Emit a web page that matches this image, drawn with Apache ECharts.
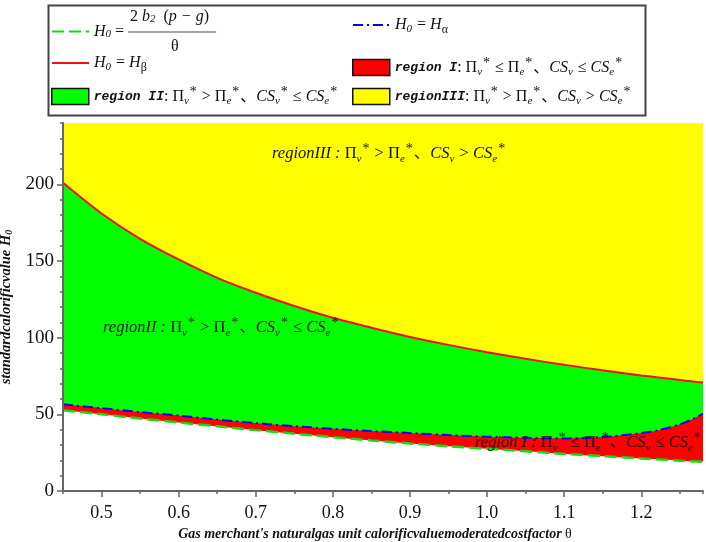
<!DOCTYPE html>
<html>
<head>
<meta charset="utf-8">
<script src="https://cdn.jsdelivr.net/npm/echarts@6/dist/echarts.min.js"></script>
<style>html,body{margin:0;padding:0;background:#fff}#c{width:706px;height:542px}</style>
</head>
<body>
<div id="c"></div>
<script>
// ---- data ----
const theta   = [0.45,0.50,0.55,0.60,0.65,0.70,0.75,0.80,0.85,0.90,0.95,1.00,1.05,1.10,1.15,1.20,1.225,1.25,1.265,1.28];
const hFormula= [52.6,50.0,47.3,44.7,42.2,39.7,37.4,35.1,33.0,31.0,29.2,27.5,25.9,24.2,22.7,21.2,20.5,19.8,19.4,19.0];
const hAlpha  = [56.5,54.0,51.5,49.2,46.6,44.3,42.3,40.6,39.1,37.8,36.5,35.4,34.7,34.3,35.2,37.8,40.0,43.5,46.5,50.5];
const hBeta   = [201,181,164.5,151,139,129.3,120.7,113,106.5,100.5,95.3,90.5,86.2,82.3,78.7,75.4,73.9,72.4,71.5,70.7];
const xTickLabels = [0.5,0.6,0.7,0.8,0.9,1.0,1.1,1.2];
const yTickLabels = [0,50,100,150,200];
const xRange = [0.45,1.28];
const yRange = [0,240];

const pairs = (xs, ys) => xs.map((x,i)=>[x, ys[i]]);

const SERIF = "'Liberation Serif','Noto Sans CJK SC',serif";
const MONO = "'Liberation Mono',monospace";

const R = {
  i:   {fontFamily:SERIF, fontStyle:'italic', fontSize:16, color:'#111', lineHeight:20},
  n:   {fontFamily:SERIF, fontSize:16, color:'#111', lineHeight:20},
  sub: {fontFamily:SERIF, fontStyle:'italic', fontSize:11, color:'#111', padding:[9,1,0,0]},
  subg:{fontFamily:SERIF, fontSize:12, color:'#111', padding:[9,0,0,0]},
  sup: {fontFamily:SERIF, fontSize:14, color:'#111', padding:[0,1,9,0]},
  rg:  {fontFamily:MONO, fontStyle:'italic', fontWeight:'bold', fontSize:13, color:'#111', lineHeight:20},
  fn:  {fontFamily:SERIF, fontSize:16, color:'#111', lineHeight:14},
  fni: {fontFamily:SERIF, fontStyle:'italic', fontSize:16, color:'#111', lineHeight:14},
  fns: {fontFamily:SERIF, fontStyle:'italic', fontSize:11, color:'#111', padding:[4,0,0,0]},
  pad1:{width:36, lineHeight:14},
  pad3:{width:77, lineHeight:14},
  hr:  {width:88, height:0, borderColor:'#888', borderWidth:1},
  fh:  {fontFamily:SERIF, fontStyle:'italic', fontSize:16, color:'#111', lineHeight:14},
  fhs: {fontFamily:SERIF, fontStyle:'italic', fontSize:11, color:'#111', padding:[4,0,0,0]}
};

const legendText = {
  'hf': '{pad1|}{fn|2 }{fni|b}{fns|2}{fn|  (}{fni|p − g}{fn|)}\n{fh|H}{fhs|0}{fn| = }{hr|}\n{pad3|}{fn|θ}',
  'ha': '{i|H}{sub|0}{n| = }{i|H}{subg|α}',
  'hb': '{i|H}{sub|0}{n| = }{i|H}{subg|β}',
  'r1': '{rg|region I}{n|: Π}{sub|v}{sup|*}{n| ≤ Π}{sub|e}{sup|*}{n|、}{i|CS}{sub|v}{n| ≤ }{i|CS}{sub|e}{sup|*}',
  'r2': '{rg|region II}{n|: Π}{sub|v}{sup|*}{n| > Π}{sub|e}{sup|*}{n|、}{i|CS}{sub|v}{sup|*}{n| ≤ }{i|CS}{sub|e}{sup|*}',
  'r3': '{rg|regionIII}{n|: Π}{sub|v}{sup|*}{n| > Π}{sub|e}{sup|*}{n|、}{i|CS}{sub|v}{n| > }{i|CS}{sub|e}{sup|*}'
};

function mkLegend(name, left, top, isLine){
  const item = {name:name};
  if (isLine) { item.itemStyle = {opacity:0}; }
  else { item.icon = 'rect'; item.itemStyle = {borderColor:'#111', borderWidth:1.5}; }
  return {
    left:left, top:top, padding:0, itemGap:0, selectedMode:false,
    itemWidth:37, itemHeight:16, data:[item],
    formatter: n => legendText[n],
    textStyle:{rich:R}
  };
}

const P = {
  pi:{fontFamily:SERIF, fontStyle:'italic', fontSize:16.5, fill:'#111', lineHeight:22},
  pn:{fontFamily:SERIF, fontSize:16.5, fill:'#111', lineHeight:22},
  ps:{fontFamily:SERIF, fontStyle:'italic', fontSize:11, fill:'#111', padding:[10,1,0,0]},
  pp:{fontFamily:SERIF, fontSize:14, fill:'#111', padding:[0,1,10,0]}
};
const txt3 = '{pi|regionIII : }{pn|Π}{ps|v}{pp|*}{pn| > Π}{ps|e}{pp|*}{pn|、}{pi|CS}{ps|v}{pn| > }{pi|CS}{ps|e}{pp|*}';
const txt2 = '{pi|regionII : }{pn|Π}{ps|v}{pp|*}{pn| > Π}{ps|e}{pp|*}{pn|、}{pi|CS}{ps|v}{pp|*}{pn| ≤ }{pi|CS}{ps|e}{pp|*}';
const txt1 = '{pi|region I : }{pn|Π}{ps|v}{pp|*}{pn| ≤ Π}{ps|e}{pp|*}{pn|、}{pi|CS}{ps|v}{pn| ≤ }{pi|CS}{ps|e}{pp|*}';

const chart = echarts.init(document.getElementById('c'), null, {renderer:'canvas'});
const axisCol = '#666';
const option = {
  animation:false,
  backgroundColor:'#fff',
  grid:{left:63, right:3, top:123, bottom:51, show:true, backgroundColor:'#ffff00', borderWidth:0,
        containLabel:false, outerBoundsMode:'none'},
  legend:[
    mkLegend('hf', 51, 9, true),
    mkLegend('ha', 352, 17, true),
    mkLegend('hb', 51, 55, true),
    mkLegend('r1', 352, 56, false),
    mkLegend('r2', 51, 85, false),
    mkLegend('r3', 352, 85, false)
  ],
  xAxis:[
    {type:'value', min:xRange[0], max:xRange[1], interval:0.05, z:5,
     axisLine:{show:true, lineStyle:{color:axisCol, width:2}},
     axisTick:{show:true, length:3, lineStyle:{color:axisCol, width:1.5}},
     axisLabel:{show:false}, splitLine:{show:false}},
    {type:'value', min:xRange[0], max:xRange[1], position:'bottom', z:5,
     axisLine:{show:false},
     axisTick:{show:true, length:6, customValues:xTickLabels, lineStyle:{color:axisCol, width:1.5}},
     axisLabel:{show:true, customValues:xTickLabels, margin:13, fontFamily:SERIF, fontSize:18, color:'#111',
                formatter: v => v.toFixed(1)},
     splitLine:{show:false},
     name:"{bi|Gas merchant's naturalgas unit calorificvaluemoderatedcostfactor }{th|θ}",
     nameLocation:'middle', nameGap:22,
     nameTextStyle:{padding:[0,16,0,0], rich:{
       bi:{fontFamily:SERIF, fontStyle:'italic', fontWeight:'bold', fontSize:14, color:'#111'},
       th:{fontFamily:SERIF, fontSize:14, color:'#111'}}}}
  ],
  yAxis:[
    {type:'value', min:yRange[0], max:yRange[1], interval:10, z:5,
     axisLine:{show:true, lineStyle:{color:axisCol, width:2}},
     axisTick:{show:true, length:3, lineStyle:{color:axisCol, width:1.5}},
     axisLabel:{show:false}, splitLine:{show:false}},
    {type:'value', min:yRange[0], max:yRange[1], position:'left', z:5,
     axisLine:{show:false},
     axisTick:{show:true, length:6, customValues:yTickLabels, lineStyle:{color:axisCol, width:1.5}},
     axisLabel:{show:true, customValues:yTickLabels, margin:9, fontFamily:SERIF, fontSize:19, color:'#111'},
     splitLine:{show:false},
     name:'{bi|standardcalorificvalue }{bi|H}{bs|0}',
     nameLocation:'middle', nameRotate:90, nameGap:38,
     nameTextStyle:{rich:{
       bi:{fontFamily:SERIF, fontStyle:'italic', fontWeight:'bold', fontSize:14.5, color:'#111'},
       bs:{fontFamily:SERIF, fontStyle:'italic', fontWeight:'bold', fontSize:10, color:'#111', padding:[7,0,0,0]}}}}
  ],
  series:[
    {name:'hb', type:'line', data:pairs(theta,hBeta), symbol:'none', smooth:0.3, z:2,
     lineStyle:{color:'#ee1111', width:2}, itemStyle:{color:'#ee1111'},
     areaStyle:{color:'#00ff00', opacity:1, origin:'start'}},
    {name:'ha', type:'line', data:pairs(theta,hAlpha), symbol:'none', smooth:0.3, z:3,
     lineStyle:{color:'#0000ff', width:2, type:[10,4,2,4]}, itemStyle:{color:'#0000ff'},
     areaStyle:{color:'#ff0000', opacity:1, origin:'start'}},
    {name:'hf', type:'line', data:pairs(theta,hFormula), symbol:'none', smooth:0.3, z:4,
     lineStyle:{color:'#11dd11', width:2.5, type:[12,5]}, itemStyle:{color:'#11dd11'},
     areaStyle:{color:'#ffffff', opacity:1, origin:'start'}},
    {name:'r1', type:'line', data:[], itemStyle:{color:'#ff0000'}},
    {name:'r2', type:'line', data:[], itemStyle:{color:'#00ff00'}},
    {name:'r3', type:'line', data:[], itemStyle:{color:'#ffff00'}}
  ],
  graphic:[
    {type:'rect', left:46, top:3, z:100, shape:{width:597, height:110},
     style:{fill:'none', stroke:'#444', lineWidth:2}},
    {type:'text', left:272, top:142, z:100, style:{text:txt3, rich:P}},
    {type:'text', left:103, top:316, z:100, style:{text:txt2, rich:P}},
    {type:'text', left:475, top:431, z:100, style:{text:txt1, rich:P}}
  ]
};
chart.setOption(option);
</script>
</body>
</html>
